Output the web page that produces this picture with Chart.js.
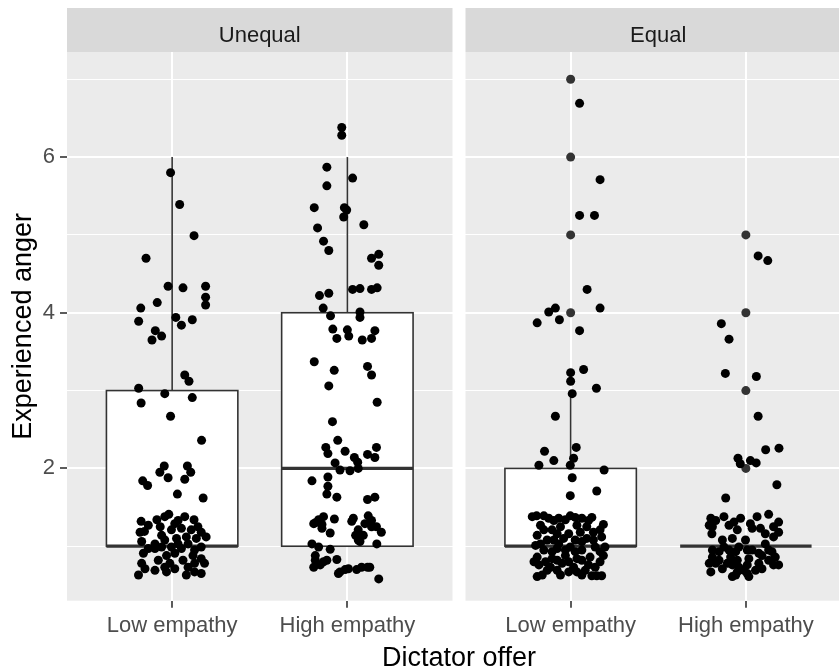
<!DOCTYPE html>
<html><head><meta charset="utf-8">
<script src="https://cdn.jsdelivr.net/npm/chart.js@4/dist/chart.umd.min.js"></script>
<style>html,body{margin:0;padding:0;overflow:hidden;background:#fff}canvas{display:block}</style>
</head><body>
<canvas id="c" width="858" height="672"></canvas>
<script>
// ---------- data ----------
const panels = ['Unequal', 'Equal'];
const categories = ['Low empathy', 'High empathy'];
const yTicks = [1, 2, 3, 4, 5, 6, 7];
const yLabelled = [2, 4, 6];
const xTitle = 'Dictator offer';
const yTitle = 'Experienced anger';

// group order: Unequal/Low, Unequal/High, Equal/Low, Equal/High
const boxLowWhisker = [1, 1, 1, 1];
const boxQ1 = [1, 1, 1, 1];
const boxMedian = [1, 2, 1, 1];
const boxQ3 = [3, 4, 2, 1];
const boxHighWhisker = [6, 6, 3, 1];
const outliersEqualLow = [4, 5, 6, 7];
const outliersEqualHigh = [2, 3, 4, 5];

// jittered observations: horizontal jitter (category units) and value
const unequalLowJitter = [-0.009,0.043,0.125,-0.149,-0.023,0.062,0.191,0.191,0.191,-0.179,-0.085,-0.191,0.021,0.053,0.115,-0.096,-0.060,-0.115,0.072,0.096,-0.191,-0.042,0.115,-0.177,-0.009,
 0.168,-0.045,-0.070,-0.023,0.087,0.106,0.072,-0.168,-0.140,0.030,0.177,
 -0.177,-0.158,-0.087,-0.042,-0.019,0.072,0.125,0.015,-0.068,-0.004,0.053,0.109,0.166,0.194,-0.174,-0.098,-0.042,0.025,0.081,0.138,-0.098,-0.004,0.053,0.128,-0.164,-0.032,0.015,0.119,0.166,0.185,-0.174,-0.155,-0.192,-0.042,-0.032,0.091,0.081,0.166,-0.060,0.034,
 -0.136,0.034,0.147,-0.060,0.091,0.166,-0.136,-0.079,0.062,0.128,-0.013,-0.098,0.015,0.128,-0.183];
const unequalLowValues = [5.80,5.39,4.99,4.70,4.34,4.32,4.34,4.20,4.10,4.06,4.13,3.89,3.94,3.84,3.91,3.77,3.70,3.65,3.20,3.12,3.03,2.96,2.91,2.84,2.67,
 2.36,2.03,1.95,1.88,2.03,1.95,1.86,1.84,1.78,1.67,1.62,
 1.32,1.19,1.34,1.38,1.41,1.38,1.34,1.29,1.25,1.21,1.23,1.21,1.18,1.12,1.06,1.03,1.08,1.10,1.12,1.10,0.97,0.99,0.97,0.95,0.91,0.88,0.91,0.88,0.84,0.78,0.78,0.71,0.63,0.73,0.67,0.73,0.63,0.65,1.14,1.03,
 1.27,1.33,1.25,0.99,1.03,0.99,0.97,0.82,0.82,0.78,0.78,0.69,0.71,0.67,1.18];

const unequalHighJitter = [-0.032,-0.032,-0.117,0.030,-0.117,-0.189,-0.017,-0.004,-0.021,0.094,-0.170,-0.136,-0.106,0.138,0.179,0.179,-0.159,-0.106,0.030,0.072,0.138,0.170,-0.138,-0.096,0.072,0.072,-0.083,0.000,0.008,-0.060,0.085,0.138,0.157,-0.189,-0.075,0.115,
 0.138,-0.106,0.170,-0.085,-0.055,-0.123,-0.111,-0.013,-0.070,0.040,0.059,0.115,0.166,0.157,-0.042,0.015,0.062,-0.202,-0.111,-0.111,-0.117,-0.060,0.115,0.157,-0.164,-0.183,-0.145,-0.074,-0.098,0.025,0.119,0.100,0.138,0.194,0.062,0.047,0.072,0.168,-0.202,-0.164,-0.098,-0.183,-0.192,-0.136,-0.060,-0.042,0.006,0.053,0.115,0.179,
 -0.192,-0.136,-0.145,0.034,0.138,0.166,0.062,0.091,-0.117,-0.155,-0.183,-0.013,0.081,0.128,-0.051];
const unequalHighValues = [6.38,6.28,5.87,5.73,5.63,5.35,5.35,5.32,5.23,5.13,5.09,4.92,4.80,4.70,4.75,4.61,4.22,4.25,4.30,4.31,4.30,4.32,4.06,3.96,4.01,3.94,3.79,3.78,3.70,3.67,3.65,3.67,3.77,3.37,3.26,3.31,
 3.20,3.06,2.85,2.60,2.36,2.27,2.19,2.22,2.07,2.14,2.08,2.18,2.27,2.14,1.98,1.97,2.00,1.84,1.89,1.77,1.67,1.63,1.60,1.63,1.34,1.30,1.28,1.35,1.17,1.32,1.39,1.29,1.25,1.18,1.21,1.14,1.06,1.03,1.03,0.99,0.96,0.82,0.73,0.80,0.83,0.67,0.71,0.70,0.73,0.58,
 1.29,1.38,1.23,1.36,1.33,1.25,1.08,1.14,0.82,0.76,0.88,0.70,0.73,0.73,0.65];

const equalLowJitter = [0.051,0.168,0.051,0.136,0.094,-0.087,-0.125,0.168,-0.191,-0.064,0.051,0.074,0.000,0.000,0.147,0.009,-0.087,-0.149,0.032,
 -0.096,-0.181,0.017,-0.002,0.191,0.009,0.149,-0.002,
 -0.194,-0.172,-0.191,-0.125,-0.068,-0.002,0.064,0.121,0.187,-0.058,0.036,0.092,-0.106,-0.011,0.055,0.130,0.177,-0.172,-0.096,-0.040,0.026,0.092,-0.153,-0.077,-0.002,0.064,0.140,-0.191,-0.106,-0.030,0.036,0.111,0.187,-0.181,-0.115,-0.049,0.017,0.102,0.168,-0.162,-0.058,0.036,0.121,0.177,-0.134,0.083,-0.011,-0.077,
 -0.219,-0.153,-0.096,-0.030,0.026,0.102,0.168,-0.153,-0.200,-0.134,-0.068,0.064,0.130,0.196,-0.209,-0.143,-0.077,0.064,0.140,-0.077,-0.011,0.064,0.149,-0.106,-0.030,0.026,0.168,-0.191];
const equalLowValues = [6.69,5.71,5.25,5.25,4.30,4.06,4.01,4.06,3.87,3.91,3.77,3.27,3.23,3.12,3.03,2.96,2.67,2.22,2.27,
 2.10,2.04,2.13,2.04,1.98,1.88,1.71,1.65,
 1.39,1.27,1.14,1.36,1.36,1.39,1.36,1.37,1.28,1.25,1.27,1.25,1.21,1.16,1.18,1.18,1.12,1.03,1.08,1.10,1.08,1.10,0.95,0.97,0.99,0.95,0.99,0.86,0.84,0.88,0.84,0.86,0.88,0.76,0.73,0.78,0.73,0.76,0.80,0.63,0.63,0.67,0.62,0.62,0.69,0.69,0.80,1.16,
 1.38,1.39,1.33,1.34,1.37,1.33,1.21,1.21,1.01,1.08,1.03,1.06,1.08,0.99,0.80,0.80,0.82,0.82,0.73,0.69,0.67,0.63,0.62,0.93,0.95,0.93,0.93,0.61];

const equalHighJitter = [0.070,0.125,-0.140,-0.096,-0.117,0.060,0.070,0.113,0.189,-0.045,-0.032,0.026,0.059,
 0.177,-0.115,
 -0.200,-0.191,-0.194,-0.125,-0.068,-0.049,0.026,0.064,0.083,0.130,0.187,0.187,0.158,-0.134,-0.077,-0.002,0.111,-0.191,-0.153,-0.096,-0.040,0.036,0.092,0.168,-0.172,-0.106,-0.049,0.017,0.074,0.130,0.187,-0.200,-0.134,-0.058,0.008,-0.040,-0.087,0.055,0.130,-0.153,0.008,
 -0.209,-0.172,-0.096,-0.030,0.036,0.111,0.158,-0.191,-0.125,-0.058,0.008,0.074,0.149,-0.209,-0.077,-0.011,0.092,0.158,-0.077,0.017,-0.049];
const equalHighValues = [4.73,4.67,3.86,3.66,3.22,3.18,2.67,2.24,2.26,2.13,2.06,2.10,2.07,
 1.79,1.62,
 1.36,1.25,1.16,1.38,1.31,1.21,1.29,1.38,1.23,1.41,1.31,1.18,1.12,1.08,1.10,1.08,1.03,0.86,0.93,0.95,0.99,0.95,0.88,0.86,0.78,0.78,0.82,0.84,0.78,0.82,0.76,0.67,0.71,0.63,0.65,0.73,0.86,0.69,0.95,0.82,0.76,
 1.27,1.33,1.27,1.36,1.23,1.16,1.25,0.95,0.99,0.93,0.95,0.91,0.93,0.78,0.76,0.69,0.71,0.76,0.61,0.61,0.67];

// ---------- layout helpers ----------
const FONT = "'Liberation Sans', Arial, sans-serif";
const PANEL_SPAN = 2.2;      // discrete axis 1..2 expanded by 0.6 each side
const PANEL_GAP = 0.0742;    // gap between facets in category units
const BOX_WIDTH = 0.75;
const STRIP_TOP = 8;
const POINT_R = 4.5;
const groups = [[0,0],[0,1],[1,0],[1,1]];
const centerOf = (p, c) => 1 + c + p * (PANEL_SPAN + PANEL_GAP);
const centers = groups.map(([p, c]) => centerOf(p, c));
const jitterSets = [
  [unequalLowJitter, unequalLowValues],
  [unequalHighJitter, unequalHighValues],
  [equalLowJitter, equalLowValues],
  [equalHighJitter, equalHighValues]
];

const datasets = [{
  label: 'outliers',
  data: outliersEqualLow.map(v => ({x: centers[2], y: v}))
        .concat(outliersEqualHigh.map(v => ({x: centers[3], y: v}))),
  backgroundColor: '#333333', pointRadius: POINT_R, pointHoverRadius: POINT_R, borderWidth: 0, order: 5
}];
jitterSets.forEach(([jit, vals], g) => {
  datasets.push({
    label: panels[groups[g][0]] + ' ' + categories[groups[g][1]],
    data: jit.map((d, i) => ({x: centers[g] + d, y: vals[i]})),
    backgroundColor: '#000000', pointRadius: POINT_R, pointHoverRadius: POINT_R, borderWidth: 0, order: 1
  });
});

const facetPlugin = {
  id: 'facets',
  beforeDraw(chart) {
    const {ctx, chartArea: a, scales: {x}} = chart;
    ctx.save();
    ctx.fillStyle = '#ffffff';
    ctx.fillRect(0, 0, chart.width, chart.height);
    panels.forEach((name, p) => {
      const off = p * (PANEL_SPAN + PANEL_GAP);
      const x0 = x.getPixelForValue(0.4 + off), x1 = x.getPixelForValue(0.4 + PANEL_SPAN + off);
      ctx.fillStyle = '#ebebeb';
      ctx.fillRect(x0, a.top, x1 - x0, a.bottom - a.top);
      ctx.fillStyle = '#d9d9d9';
      ctx.fillRect(x0, STRIP_TOP, x1 - x0, a.top - STRIP_TOP);
      ctx.fillStyle = '#1a1a1a';
      ctx.font = '22px ' + FONT;
      ctx.textAlign = 'center';
      ctx.textBaseline = 'alphabetic';
      ctx.fillText(name, (x0 + x1) / 2, a.top - 10.5);
    });
    ctx.restore();
  }
};

const boxPlugin = {
  id: 'boxes',
  beforeDatasetsDraw(chart) {
    const {ctx, scales: {x, y}} = chart;
    ctx.save();
    centers.forEach((c, g) => {
      const x0 = x.getPixelForValue(c - BOX_WIDTH / 2), x1 = x.getPixelForValue(c + BOX_WIDTH / 2);
      const xc = x.getPixelForValue(c);
      const yq1 = y.getPixelForValue(boxQ1[g]), yq3 = y.getPixelForValue(boxQ3[g]);
      const ym = y.getPixelForValue(boxMedian[g]);
      const yhi = y.getPixelForValue(boxHighWhisker[g]), ylo = y.getPixelForValue(boxLowWhisker[g]);
      ctx.strokeStyle = '#333333';
      ctx.lineWidth = 1.6;
      ctx.beginPath();
      ctx.moveTo(xc, yq3); ctx.lineTo(xc, yhi);
      ctx.moveTo(xc, yq1); ctx.lineTo(xc, ylo);
      ctx.stroke();
      if (yq1 - yq3 > 0.5) {
        ctx.fillStyle = '#ffffff';
        ctx.fillRect(x0, yq3, x1 - x0, yq1 - yq3);
        ctx.strokeRect(x0, yq3, x1 - x0, yq1 - yq3);
      }
      ctx.lineWidth = 3.2;
      ctx.beginPath();
      ctx.moveTo(x0, ym); ctx.lineTo(x1, ym);
      ctx.stroke();
    });
    ctx.restore();
  }
};

new Chart(document.getElementById('c'), {
  type: 'scatter',
  data: {datasets},
  plugins: [facetPlugin, boxPlugin],
  options: {
    responsive: false,
    devicePixelRatio: 1,
    animation: false,
    events: [],
    layout: {padding: {left: 0, right: 7, top: 52, bottom: 0}},
    plugins: {legend: {display: false}, tooltip: {enabled: false}},
    scales: {
      x: {
        type: 'linear',
        min: 0.4,
        max: 0.4 + 2 * PANEL_SPAN + PANEL_GAP,
        afterBuildTicks: s => { s.ticks = centers.map(v => ({value: v})); },
        afterFit: s => { s.height = 71.3; },
        ticks: {
          callback: (v, i) => categories[groups[i][1]],
          color: '#4d4d4d', font: {family: FONT, size: 22}, padding: 5,
          maxRotation: 0, autoSkip: false
        },
        grid: {color: '#ffffff', lineWidth: 2, tickColor: '#333333', tickLength: 7, tickWidth: 1.6},
        border: {display: false},
        title: {display: true, text: xTitle, color: '#000000',
                font: {family: FONT, size: 27, lineHeight: 1}, padding: {top: 0, bottom: 0}}
      },
      y: {
        type: 'linear',
        min: 0.3,
        max: 7.35,
        afterBuildTicks: s => { s.ticks = yTicks.map(v => ({value: v})); },
        afterFit: s => { s.width = 67; },
        ticks: {
          callback: v => yLabelled.includes(v) ? String(v) : '',
          color: '#4d4d4d', font: {family: FONT, size: 22}, padding: 5
        },
        grid: {
          color: '#ffffff',
          lineWidth: c => yLabelled.includes(c.tick.value) ? 2 : 1,
          tickColor: c => yLabelled.includes(c.tick.value) ? '#333333' : 'rgba(0,0,0,0)',
          tickLength: 7, tickWidth: 1.6
        },
        border: {display: false},
        title: {display: true, text: yTitle, color: '#000000',
                font: {family: FONT, size: 27, lineHeight: 1}, padding: {top: 10.5, bottom: 0}}
      }
    }
  }
});
</script>
</body></html>
